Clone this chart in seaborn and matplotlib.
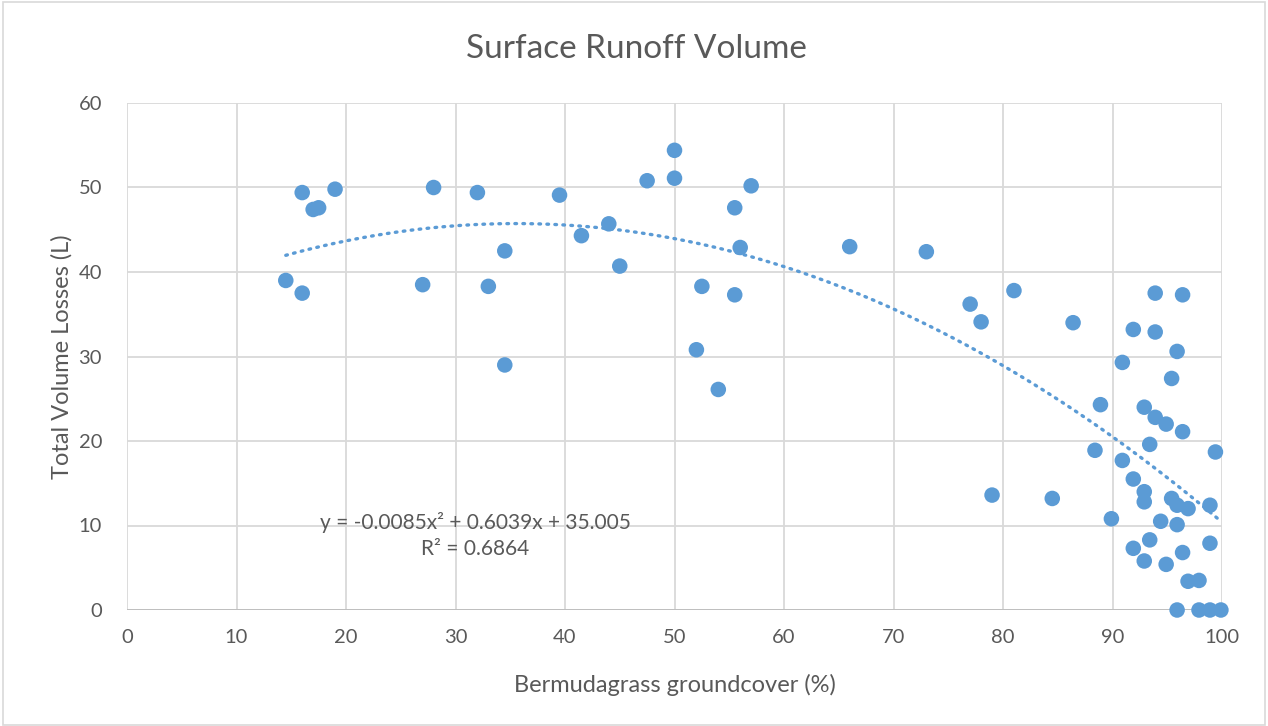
import numpy as np
import pandas as pd
import matplotlib
matplotlib.use("Agg")
import matplotlib.pyplot as plt
import seaborn as sns

groundcover = [14.5, 16, 16, 17, 17.5, 19, 27, 28, 32, 33, 34.5, 34.5, 39.5, 41.5, 44, 45,
               47.5, 50, 50, 52, 52.5, 54, 55.5, 55.5, 56, 57, 66, 73, 77, 78, 79, 81,
               84.5, 86.4, 88.4, 88.9, 89.9, 90.9, 90.9, 91.9, 91.9, 91.9, 92.9, 92.9, 92.9, 92.9,
               93.4, 93.4, 93.9, 93.9, 93.9, 94.4, 94.9, 94.9, 95.4, 95.4, 95.9, 95.9, 95.9, 95.9,
               96.4, 96.4, 96.4, 96.9, 96.9, 97.9, 97.9, 98.9, 98.9, 98.9, 99.4, 99.9]
volume_loss = [39, 49.4, 37.5, 47.4, 47.6, 49.8, 38.5, 50, 49.4, 38.3, 42.5, 29, 49.1, 44.3, 45.7, 40.7,
               50.8, 54.4, 51.1, 30.8, 38.3, 26.1, 47.6, 37.3, 42.9, 50.2, 43, 42.4, 36.2, 34.1, 13.6, 37.8,
               13.2, 34.0, 18.9, 24.3, 10.8, 29.3, 17.7, 33.2, 15.5, 7.3, 24.0, 14.0, 12.8, 5.8,
               19.6, 8.3, 37.5, 32.9, 22.8, 10.5, 22.0, 5.4, 27.4, 13.2, 30.6, 12.4, 10.1, 0,
               37.3, 21.1, 6.8, 12.0, 3.4, 3.5, 0, 12.4, 7.9, 0, 18.7, 0]

# Polynomial trendline coefficients shown on the chart
trend_coef = [-0.0085, 0.6039, 35.005]
trend_label = "y = -0.0085x² + 0.6039x + 35.005"
r2_label = "R² = 0.6864"

x_ticks = list(range(0, 101, 10))
y_ticks = list(range(0, 61, 10))

df = pd.DataFrame({"x": groundcover, "y": volume_loss})

sns.set_theme(style="white")
plt.rcParams['font.family'] = ['Lato', 'DejaVu Sans']

fig = plt.figure(figsize=(12.68, 7.26), dpi=100)
ax = fig.add_axes([127/1268, 1-610/726, (1222-127)/1268, (610-103)/726])

grid_c = "#D9D9D9"
text_c = "#595959"
pt_c = "#5B9BD5"

for xv in x_ticks:
    ax.axvline(xv, color=grid_c, lw=1.3, zorder=0)
for yv in y_ticks:
    ax.axhline(yv, color=grid_c, lw=1.3, zorder=0)
ax.axhline(0, color="#BFBFBF", lw=1.4, zorder=1)

sns.scatterplot(data=df, x="x", y="y", ax=ax, color=pt_c, s=125, edgecolor="none",
                zorder=3, legend=False, clip_on=False)

xs = np.linspace(min(groundcover), 100, 300)
ys = np.polyval(trend_coef, xs)
ax.plot(xs, ys, color=pt_c, lw=2.4, linestyle=(0, (0.5, 1.9)), dash_capstyle="round", zorder=4)

ax.set_xlim(0, 100)
ax.set_ylim(0, 60)
ax.set_xticks(x_ticks)
ax.set_yticks(y_ticks)
ax.tick_params(axis="x", length=0, labelsize=14.5, colors=text_c, pad=14)
ax.tick_params(axis="y", length=0, labelsize=14.5, colors=text_c, pad=18)
for s in ax.spines.values():
    s.set_visible(False)
ax.set_xlabel("Bermudagrass groundcover (%)", fontsize=17, color=text_c, labelpad=20)
ax.set_ylabel("Total Volume Losses (L)", fontsize=17, color=text_c, labelpad=4)

ax.text(31.8, 10.4, trend_label, ha="center", va="center", fontsize=15, color=text_c)
ax.text(31.8, 7.2, r2_label, ha="center", va="center", fontsize=15, color=text_c)

fig.text(636/1268, 1-49/726, "Surface Runoff Volume", ha="center", va="center",
         fontsize=24, color=text_c)

# chart border
fig.add_artist(plt.Rectangle((0.002, 0.002), 0.996, 0.995, transform=fig.transFigure,
                             fill=False, edgecolor="#D9D9D9", lw=1.2))

fig.savefig("out.png", dpi=100, facecolor="white")
